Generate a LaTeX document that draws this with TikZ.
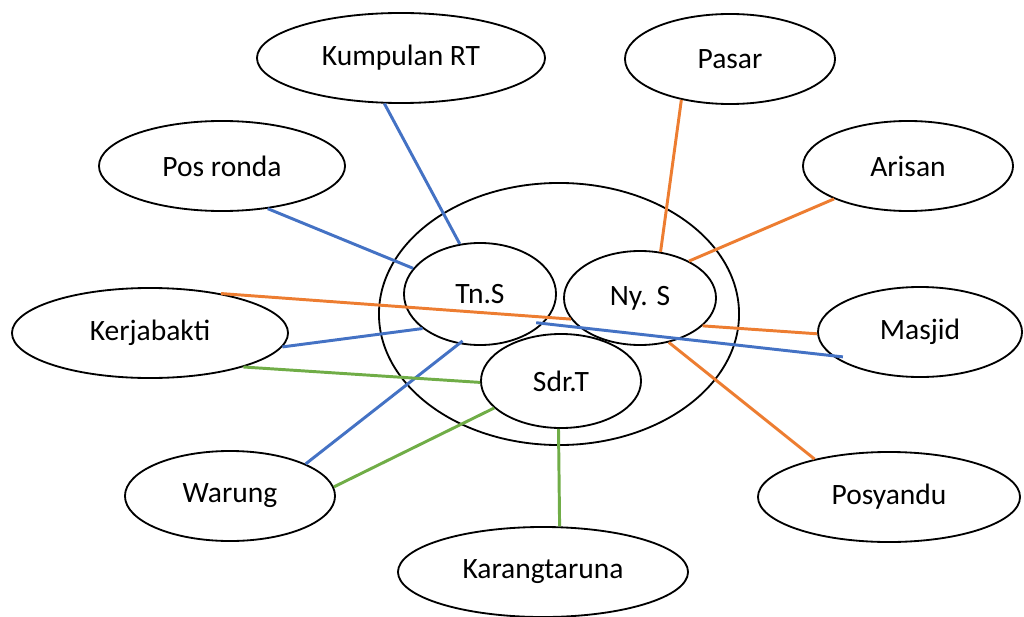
\documentclass[tikz,border=0pt]{standalone}
\usepackage{fontspec}
\setmainfont{Carlito}
\usetikzlibrary{shapes.geometric}
\definecolor{tnblue}{HTML}{4472C4}
\definecolor{nyorange}{HTML}{ED7D31}
\definecolor{sdrgreen}{HTML}{70AD47}
\begin{document}
\begin{tikzpicture}[x=0.025cm,y=-0.025cm,
  oval/.style={ellipse,draw=black,line width=1.3pt,inner sep=0pt,
    minimum height=2.25cm,font=\fontsize{21}{25}\selectfont},
  tie/.style={line width=2.1pt}]

\useasboundingbox (0,0) rectangle (1024,617);

\begin{scope} % family circle
  \node[oval,minimum width=9cm,minimum height=6.55cm] (kel) at (559,314) {};
  \node[oval,minimum width=3.8cm,minimum height=2.55cm] (tns) at (480,294) {Tn.S};
  \node[oval,minimum width=3.8cm,minimum height=2.35cm] (nys) at (640,298) {Ny. S};
  \node[oval,minimum width=4cm,minimum height=2.35cm] (sdrt) at (561,381) {Sdr.T};
\end{scope}

\begin{scope} % surrounding groups
  \node[oval,minimum width=7.2cm] (krt) at (401,58) {Kumpulan RT};
  \node[oval,minimum width=6.15cm] (pos) at (222,166) {Pos ronda};
  \node[oval,minimum width=5.25cm] (pasar) at (730,59) {Pasar};
  \node[oval,minimum width=5.25cm] (arisan) at (908,166) {Arisan};
  \node[oval,minimum width=6.9cm] (kerja) at (150,333) {Kerjabakti};
  \node[oval,minimum width=5.1cm] (masjid) at (920,332) {Masjid};
  \node[oval,minimum width=5.25cm] (warung) at (230,496) {Warung};
  \node[oval,minimum width=6.55cm] (posy) at (889,497) {Posyandu};
  \node[oval,minimum width=7.25cm] (karang) at (543,572) {Karangtaruna};
\end{scope}

\begin{scope}[tie,nyorange] % links of Ny. S
  \draw (pasar.220.6) -- (nys.66.2);
  \draw (arisan.204.3) -- (nys.37.9);
  \draw (kerja.29.6) -- (nys.197.1);
  \draw (nys.-24.9) -- (masjid.181.8);
  \draw (nys.-57.1) -- (posy.153.4);
\end{scope}

\begin{scope}[tie,tnblue] % links of Tn.S
  \draw (krt.250) -- (tns.112.4);
  \draw (pos.-43) -- (tns.159.4);
  \draw (kerja.-6.8) -- (tns.211.5);
  \draw[shorten >=-0.12cm] (warung.23.2) -- (tns.247.8);
  \draw[shorten <=-0.18cm,shorten >=-0.28cm] (tns.-25.9) -- (masjid.195.4);
\end{scope}

\begin{scope}[tie,sdrgreen] % links of Sdr.T
  \draw (kerja.-20.2) -- (sdrt.181.5);
  \draw (warung.5.4) -- (sdrt.202);
  \draw (sdrt.267.6) -- (karang.70);
\end{scope}

\end{tikzpicture}
\end{document}
